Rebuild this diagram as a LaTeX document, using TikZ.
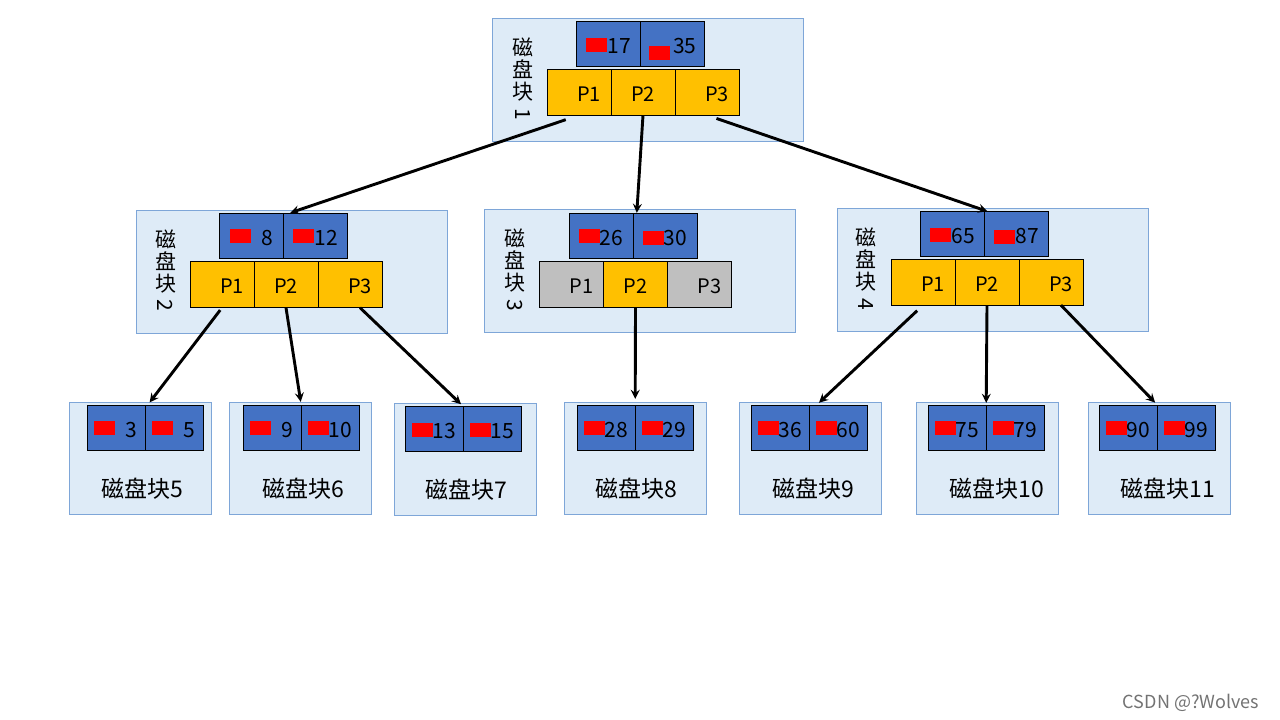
\documentclass[tikz,border=0pt]{standalone}
\usepackage{fontspec}
\setmainfont{Noto Sans CJK SC}
\usepackage{xcolor}
\usepackage{graphicx}
\usepackage{tikz}
\usetikzlibrary{shapes.geometric, arrows}
\definecolor{blkfill}{HTML}{DEEBF7}
\definecolor{blkline}{HTML}{7EA6D8}
\definecolor{keyblue}{HTML}{4472C4}
\definecolor{ptrgold}{HTML}{FFC000}
\definecolor{ptrgray}{HTML}{BFBFBF}
\newcommand{\rk}[1][2pt]{\textcolor{red}{\rule[#1]{21pt}{14pt}}}
\newcommand{\vone}[1]{\rotatebox[origin=c]{-90}{#1}}
\tikzstyle{blk} = [rectangle, minimum width=311pt, minimum height=123pt, draw=blkline, fill=blkfill, line width=1pt]
\tikzstyle{leaf} = [rectangle, minimum width=142pt, minimum height=112pt, draw=blkline, fill=blkfill, line width=1pt]
\tikzstyle{key} = [rectangle, minimum width=64pt, minimum height=45pt, inner sep=0pt, text height=19pt, text depth=0pt, text centered, draw=black, fill=keyblue]
\tikzstyle{lkey} = [key, minimum width=58pt]
\tikzstyle{ptr} = [rectangle, minimum width=64pt, minimum height=46pt, inner sep=0pt, text height=18pt, text depth=0pt, text centered, draw=black, fill=ptrgold, font=\fontsize{20}{24}\selectfont]
\tikzstyle{gptr} = [ptr, fill=ptrgray]
\tikzstyle{vlab} = [align=center, inner sep=0pt, font=\fontsize{21}{22}\selectfont]
\tikzstyle{ltxt} = [inner sep=0pt, font=\fontsize{23}{26}\selectfont]
\tikzstyle{arrow} = [line width=2.9pt,->,>=stealth]

\begin{document}
\begin{tikzpicture}[x=1pt, y=-1pt, node distance=64pt, font=\fontsize{21}{25}\selectfont]
\useasboundingbox[fill=white] (0,0) rectangle (1280,720);

% block 1
\node (b1) [blk] at (648,79.5) {};
\node (n1) [vlab] at ([xshift=31pt]b1.west) {磁\\盘\\块\\\vone{1}};
\node (p11) [ptr] at (579,92) {\quad P1};
\node (p12) [ptr, right of=p11] {P2};
\node (p13) [ptr, right of=p12] {\quad P3};
\node (k11) [key, above of=p11, xshift=29.5pt, yshift=-16pt] {\rk17};
\node (k12) [key, right of=k11] {\rk[-6pt]\,35};

% block 2
\node (b2) [blk] at (291.5,271.5) {};
\node (n2) [vlab] at ([xshift=30pt]b2.west) {磁\\盘\\块\\\vone{2}};
\node (p21) [ptr] at (222,284.5) {\quad P1};
\node (p22) [ptr, right of=p21] {P2};
\node (p23) [ptr, right of=p22] {\quad P3};
\node (k21) [key, above of=p21, xshift=29.5pt, yshift=-15pt] {\rk\enspace8};
\node (k22) [key, right of=k21] {\rk12};

% block 3
\node (b3) [blk] at (640,271) {};
\node (n3) [vlab] at ([xshift=31pt]b3.west) {磁\\盘\\块\\\vone{3}};
\node (p31) [gptr] at (571.5,284) {\quad P1};
\node (p32) [ptr, right of=p31] {P2};
\node (p33) [gptr, right of=p32] {\quad P3};
\node (k31) [key, above of=p31, xshift=29.5pt, yshift=-15.5pt] {\rk26};
\node (k32) [key, right of=k31] {\rk[0pt]30};

% block 4
\node (b4) [blk] at (993,270) {};
\node (n4) [vlab] at ([xshift=29pt]b4.west) {磁\\盘\\块\\\vone{4}};
\node (p41) [ptr] at (923,282) {\quad P1};
\node (p42) [ptr, right of=p41] {P2};
\node (p43) [ptr, right of=p42] {\quad P3};
\node (k41) [key, above of=p41, xshift=29.5pt, yshift=-16pt] {\rk65};
\node (k42) [key, right of=k41] {\rk[0pt]87};

% leaves
\node (l5) [leaf] at (140,458) {};
\node (k51) [lkey] at (116,427.5) {\rk\enspace3};
\node (k52) [lkey, right of=k51, xshift=-6pt] {\rk\enspace5};
\node (t5) [ltxt] at (142,489) {磁盘块5};

\node (l6) [leaf] at (300,458) {};
\node (k61) [lkey] at (272,427.5) {\rk\enspace9};
\node (k62) [lkey, right of=k61, xshift=-6pt] {\rk10};
\node (t6) [ltxt] at (303,489) {磁盘块6};

\node (l7) [leaf] at (465,459) {};
\node (k71) [lkey] at (434,429) {\rk13};
\node (k72) [lkey, right of=k71, xshift=-6pt] {\rk15};
\node (t7) [ltxt] at (466,490) {磁盘块7};

\node (l8) [leaf] at (635.5,458) {};
\node (k81) [lkey] at (606,427.5) {\rk28};
\node (k82) [lkey, right of=k81, xshift=-6pt] {\rk29};
\node (t8) [ltxt] at (636,489) {磁盘块8};

\node (l9) [leaf] at (810.5,458) {};
\node (k91) [lkey] at (780,427.5) {\rk36};
\node (k92) [lkey, right of=k91, xshift=-6pt] {\rk60};
\node (t9) [ltxt] at (813,489) {磁盘块9};

\node (l10) [leaf] at (987.5,458) {};
\node (k101) [lkey] at (957,427.5) {\rk75};
\node (k102) [lkey, right of=k101, xshift=-6pt] {\rk79};
\node (t10) [ltxt] at (996.5,489) {磁盘块10};

\node (l11) [leaf] at (1159.5,458) {};
\node (k111) [lkey] at (1128,427.5) {\rk90};
\node (k112) [lkey, right of=k111, xshift=-6pt] {\rk99};
\node (t11) [ltxt] at (1167.5,489) {磁盘块11};

\node (wm) [inner sep=0pt, text=black!55, font=\fontsize{18}{20}\selectfont] at (1191,703) {CSDN @?Wolves};

\draw [arrow, shorten <=14pt] (p11.south) -- ([xshift=7pt]k22.north west);
\draw [arrow] (p12.south) -- ([xshift=4pt]k32.north west);
\draw [arrow, shorten <=10pt] (p13.south) -- ([xshift=3pt]k42.north west);

\draw [arrow, shorten <=3pt, shorten >=3pt] (p21.south) -- ([xshift=3pt]k52.north west);
\draw [arrow, shorten >=3pt] (p22.south) -- (k61.north east);
\draw [arrow, shorten >=3pt] ([xshift=10pt]p23.south) -- (k71.north east);

\draw [arrow, shorten >=6pt] (p32.south) -- (k81.north east);

\draw [arrow, shorten <=8pt, shorten >=3pt] (p41.south) -- ([xshift=8pt]k92.north west);
\draw [arrow, shorten >=2pt] (p42.south) -- (k101.north east);
\draw [arrow, shorten >=3pt] ([xshift=10pt]p43.south) -- (k111.north east);

\end{tikzpicture}
\end{document}
